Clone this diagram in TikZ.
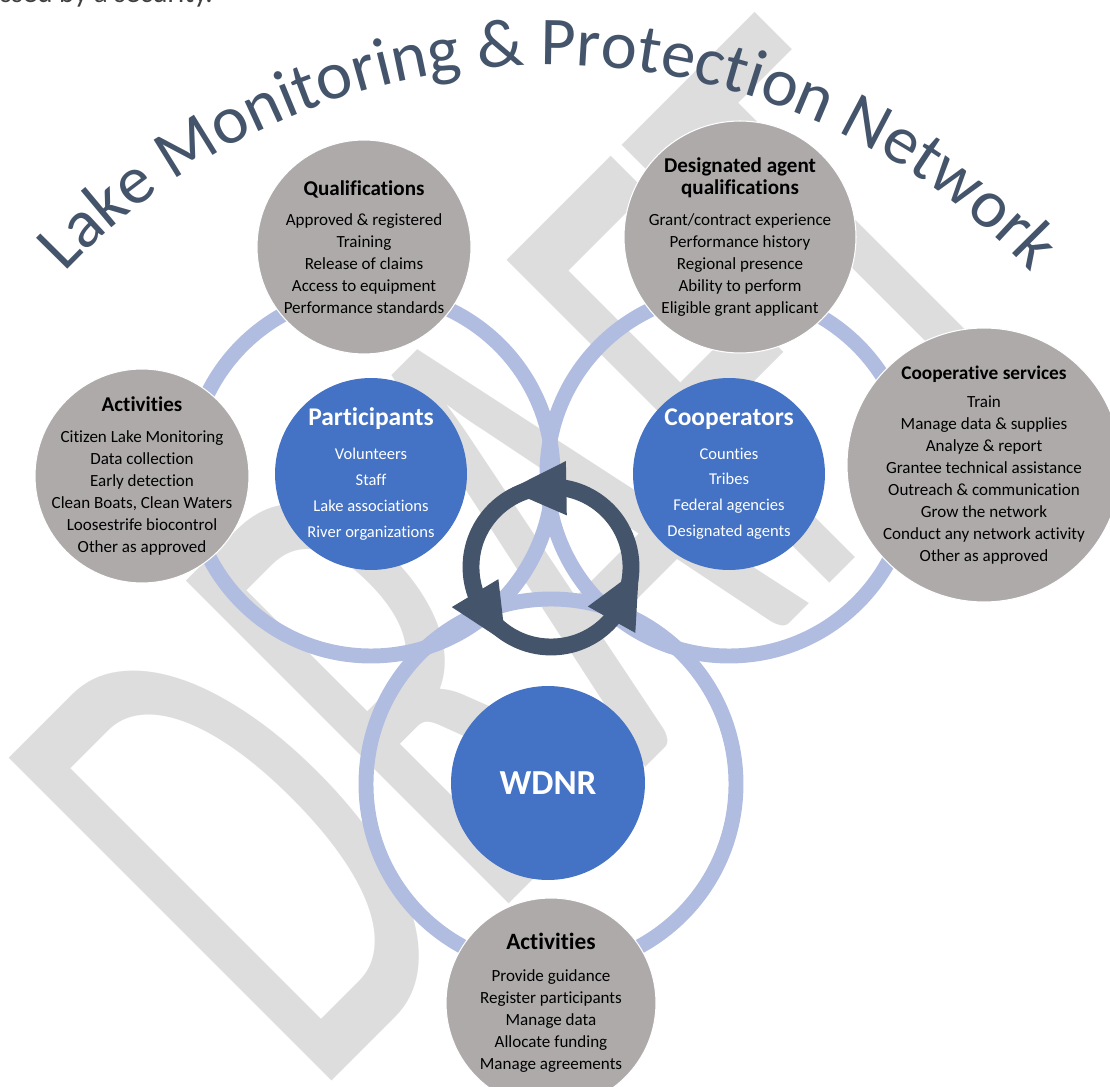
\documentclass[tikz,border=0pt]{standalone}
\usepackage{fontspec}
\setmainfont{Carlito}[Ligatures=NoCommon]
\usetikzlibrary{decorations.text}
\definecolor{lmpBlue}{HTML}{4472C4}
\definecolor{lmpRing}{HTML}{B0BDE0}
\definecolor{lmpGrey}{HTML}{AEAAAA}
\definecolor{lmpSlate}{HTML}{44546A}
\definecolor{lmpDraft}{HTML}{DDDDDD}
\definecolor{lmpPage}{HTML}{404040}

\begin{document}
\begin{tikzpicture}[x=0.02cm, y=0.02cm, line join=round,
	disc/.style={circle, fill=lmpGrey, draw=white, line width=0.6pt, inner sep=0pt},
	disctext/.style={align=center, inner sep=0pt, font=\fontsize{9.7}{12.5}\selectfont},
	hub/.style={circle, fill=lmpBlue, inner sep=0pt, align=center, text=white, font=\fontsize{9.4}{14.7}\selectfont},
	ring/.style={draw=lmpRing, line width=8.5pt},
	draftmark/.style={anchor=base west, rotate=45, xscale=0.57, inner sep=0pt, text=lmpDraft, font=\fontsize{405}{405}\selectfont}]
	\useasboundingbox (0,0) rectangle (1110,-1087);
	\clip (0,0) rectangle (1110,-1087);
	% watermark and page text
	\node[draftmark] (draft) at (312,-1101) {DRAFT};
	\node[anchor=base east, inner sep=0pt, text=lmpPage, font=\fontsize{16.5}{18}\selectfont] (pagetext) at (213,-3) {ssed by a security.};
	% title on arc
	\path[decorate, decoration={text along path, text align=center, text color=lmpSlate,
		text={|\fontsize{39}{40}\selectfont|Lake Monitoring {\&} Protection Network}}]
		(548,-731) ++(160:666) arc[start angle=160, end angle=20, radius=666];
	% blue hubs
	\node[hub, minimum size=3.84cm] (part) at (371,-474) {{\bfseries\fontsize{14.5}{16}\selectfont Participants}\\[4.6pt] Volunteers\\ Staff\\ Lake associations\\ River organizations};
	\node[hub, minimum size=3.84cm] (coop) at (729,-474) {{\bfseries\fontsize{14.5}{16}\selectfont Cooperators}\\[4.6pt] Counties\\ Tribes\\ Federal agencies\\ Designated agents};
	\node[hub, minimum size=3.88cm, font=\bfseries\fontsize{20}{22}\selectfont] (wdnr) at (548,-783) {WDNR};
	% rings
	\draw[ring] (part.center) circle[radius=182];
	\draw[ring] (coop.center) circle[radius=182];
	\draw[ring] (wdnr.center) ++(3,-1) circle[radius=185];
	% cycle arrow
	\coordinate (cycle) at (551,-567);
	\draw[lmpSlate, line width=9.6pt] (cycle) circle[radius=80];
	\begin{scope}[shift={(cycle)}]
		\foreach \a in {82,202,322}
			\fill[lmpSlate] (\a:107) -- ({\a-9}:54) -- ({\a+37}:88) -- cycle;
	\end{scope}
	% grey discs
	\node[disc, minimum size=4.28cm] (qual) at (364,-247) {};
	\node[disctext] (qualtext) at (qual.center) {{\bfseries\fontsize{12}{13}\selectfont Qualifications}\\[5pt] Approved \& registered\\ Training\\ Release of claims\\ Access to equipment\\ Performance standards};
	\node[disc, minimum size=4.64cm] (agent) at (740,-237) {};
	\node[disctext] (agenttext) at (agent.center) {{\bfseries\fontsize{12}{13}\selectfont Designated agent}\\ {\bfseries\fontsize{12}{13}\selectfont qualifications}\\[5pt] Grant/contract experience\\ Performance history\\ Regional presence\\ Ability to perform\\ Eligible grant applicant};
	\node[disc, minimum size=4.28cm] (actl) at (142,-476) {};
	\node[disctext] (actltext) at (actl.center) {{\bfseries\fontsize{12}{13}\selectfont Activities}\\[5pt] Citizen Lake Monitoring\\ Data collection\\ Early detection\\ Clean Boats, Clean Waters\\ Loosestrife biocontrol\\ Other as approved};
	\node[disc, minimum size=5.48cm] (serv) at (984,-465) {};
	\node[disctext] (servtext) at (serv.center) {{\bfseries\fontsize{11}{12}\selectfont Cooperative services}\\[3.4pt] Train\\ Manage data \& supplies\\ Analyze \& report\\ Grantee technical assistance\\ Outreach \& communication\\ Grow the network\\ Conduct any network activity\\ Other as approved};
	\node[disc, minimum size=4.2cm] (actb) at (551,-1003) {};
	\node[disctext] (actbtext) at (actb.center) {{\bfseries\fontsize{13.3}{14}\selectfont Activities}\\[5.6pt] Provide guidance\\ Register participants\\ Manage data\\ Allocate funding\\ Manage agreements};
\end{tikzpicture}
\end{document}
